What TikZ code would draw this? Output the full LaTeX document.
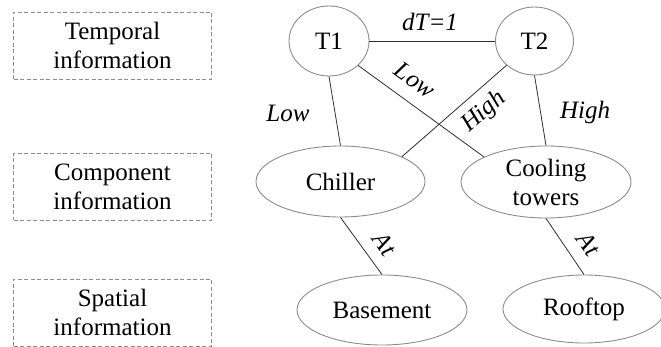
\documentclass[tikz,border=0pt]{standalone}
\usepackage{fontspec}
\setmainfont{Liberation Serif}
\usetikzlibrary{shapes.geometric}
\definecolor{rimgray}{HTML}{8C8C8C}
\definecolor{linkgray}{HTML}{2E2E2E}
\tikzset{
  entity/.style={ellipse, draw=rimgray, line width=0.9pt, inner sep=0pt, align=center,
    font=\fontsize{25}{29}\selectfont},
  layerbox/.style={draw=rimgray, line width=0.9pt, dash pattern=on 4pt off 2.5pt,
    minimum width=198pt, minimum height=67pt, inner sep=0pt, align=center,
    font=\fontsize{25}{29}\selectfont},
  link/.style={draw=linkgray, line width=0.8pt},
  rel/.style={font=\fontsize{25}{29}\selectfont\itshape, inner sep=0pt}
}
\begin{document}
\begin{tikzpicture}[x=1pt,y=-1pt]
\useasboundingbox (0,0) rectangle (661,347);

% layer captions
\node[layerbox] (tbox) at (112.5,45.5) {Temporal\\information};
\node[layerbox] (cbox) at (112.5,187) {Component\\information};
\node[layerbox] (sbox) at (112.5,312.5) {Spatial\\information};

% temporal nodes
\node[entity, minimum width=80pt, minimum height=70pt] (T1) at (329,41) {T1};
\node[entity, minimum width=78pt, minimum height=68pt] (T2) at (534.5,41) {T2};

% component nodes
\node[entity, minimum width=169pt, minimum height=71pt] (Ch) at (340.5,181.5) {Chiller};
\node[entity, minimum width=170pt, minimum height=72pt] (CT) at (546,182) {Cooling\\towers};

% spatial nodes
\node[entity, minimum width=170pt, minimum height=70pt] (Bs) at (382,310) {Basement};
\node[entity, minimum width=162pt, minimum height=68pt] (Rf) at (584,309) {Rooftop};

% relations
\draw[link] (T1) -- (T2);
\draw[link] (T1.south) -- (Ch.north);
\draw[link] (T1.-40) -- (CT.158);
\draw[link] (T2.-139) -- (Ch.22);
\draw[link] (T2.south) -- (CT.north);
\draw[link] (Ch.south) -- (Bs.north);
\draw[link] (CT.south) -- (Rf.north);

% relation labels
\node[rel] (ldt) at (430,22) {dT=1};
\node[rel] (llow1) at (288,113) {Low};
\node[rel, rotate=-36] (llow2) at (415,80) {Low};
\node[rel, rotate=41] (lhigh1) at (484,112) {High};
\node[rel] (lhigh2) at (585,112) {High};
\node[rel, rotate=-54] (lat1) at (385,244) {At};
\node[rel, rotate=-54] (lat2) at (589,244) {At};
\end{tikzpicture}
\end{document}
